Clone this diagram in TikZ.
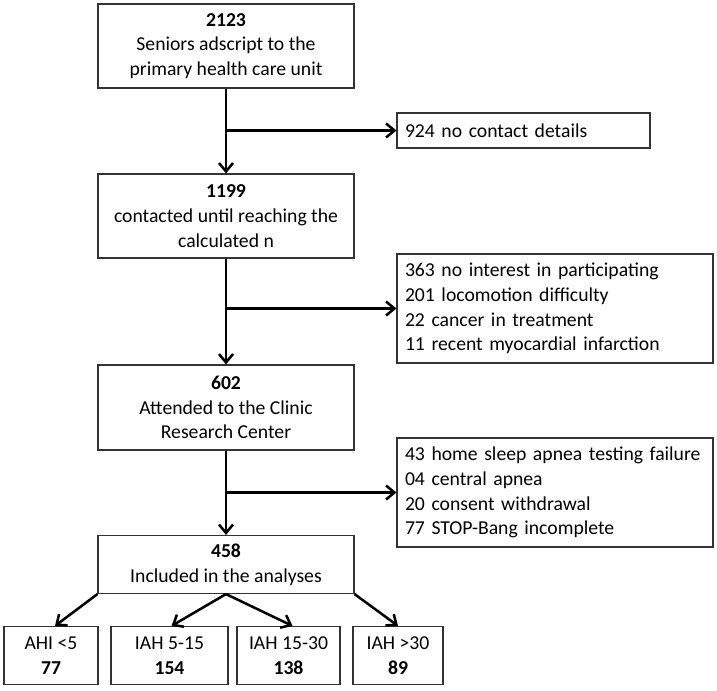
\documentclass[tikz,border=0pt]{standalone}
\usepackage{fontspec}
\setmainfont{Carlito}
\usetikzlibrary{arrows.meta}

\begin{document}
\begin{tikzpicture}
\tikzstyle{stage}=[draw=black!80, line width=0.8pt, minimum width=6.4cm, minimum height=2.1cm, align=center, font=\fontsize{14}{17.6}\selectfont]
\tikzstyle{excluded}=[draw=black!80, line width=0.8pt, inner xsep=0.2cm, inner ysep=0pt, text width=7.5cm, minimum height=2.725cm, align=left, font=\fontsize{14}{17.6}\selectfont]
\tikzstyle{group}=[draw=black!80, line width=0.8pt, minimum height=1.45cm, inner xsep=0pt, align=center, font=\fontsize{14}{17.6}\selectfont]
\tikzstyle{flow}=[line width=1.8pt, -{Straight Barb[length=6pt,width=10pt,line width=1.8pt]}]

\useasboundingbox (0,0) rectangle (17.925,17.25);

\draw (5.65,16.1) node[stage] (seniors) {\textbf{2123}\\Seniors adscript to the\\primary health care unit};
\draw (13.0875,13.9875) node[excluded, minimum height=0.875cm, text width=5.925cm] (nocontact) {924 no contact details};
\draw (5.65,11.85) node[stage] (contacted) {\textbf{1199}\\contacted until reaching the\\calculated n};
\draw (13.875,9.5375) node[excluded] (refused) {363 no interest in participating\\201 locomotion difficulty\\22 cancer in treatment\\11 recent myocardial infarction};
\draw (5.65,7.0625) node[stage, minimum height=2.125cm] (attended) {\textbf{602}\\Attended to the Clinic\\Research Center};
\draw (13.875,4.9375) node[excluded] (failed) {43 home sleep apnea testing failure\\04 central apnea\\20 consent withdrawal\\77 STOP-Bang incomplete};
\draw (5.65,3.1375) node[stage, minimum height=1.45cm] (included) {\textbf{458}\\Included in the analyses};
\draw (1.275,0.8625) node[group, minimum width=2.35cm] (ahi5) {AHI <5\\\textbf{77}};
\draw (4.2375,0.8625) node[group, minimum width=2.925cm] (iah5) {IAH 5-15\\\textbf{154}};
\draw (7.2125,0.8625) node[group, minimum width=2.575cm] (iah15) {IAH 15-30\\\textbf{138}};
\draw (9.95,0.8625) node[group, minimum width=2.25cm] (iah30) {IAH >30\\\textbf{89}};

\draw[flow] (seniors) -- (contacted);
\draw[flow] (seniors.south |- nocontact.west) -- (nocontact.west);
\draw[flow] (contacted) -- (attended);
\draw[flow] (contacted.south |- refused.west) -- (refused.west);
\draw[flow] (attended) -- (included);
\draw[flow] (attended.south |- failed.west) -- (failed.west);
\draw[flow] (included.south west) -- ([xshift=0.1cm]ahi5.north);
\draw[flow] (included.south) -- ([xshift=0.05cm]iah5.north);
\draw[flow] (included.south) -- ([xshift=0.1cm]iah15.north);
\draw[flow] (included.south east) -- (iah30.north);
\end{tikzpicture}
\end{document}
